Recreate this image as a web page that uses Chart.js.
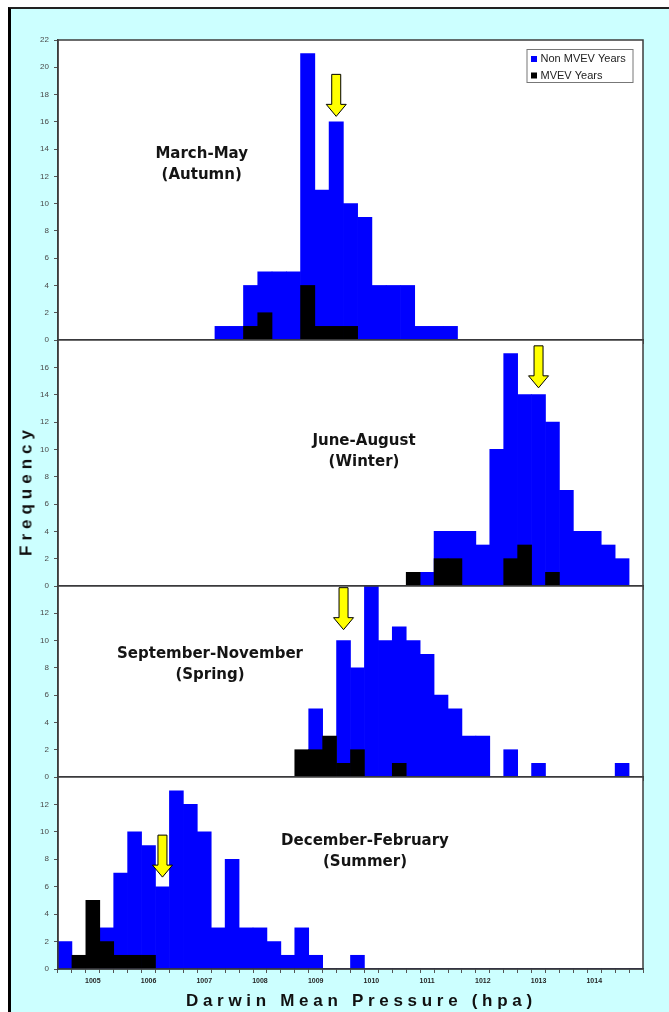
<!DOCTYPE html>
<html>
<head>
<meta charset="utf-8">
<script src="https://cdn.jsdelivr.net/npm/chart.js@4.4.1/dist/chart.umd.min.js"></script>
<style>
html,body{margin:0;padding:0;background:#fff;width:669px;height:1012px;overflow:hidden;position:relative;}
#frame{position:absolute;left:8px;top:7px;width:720px;height:1100px;background:#ccffff;border-left:3px solid #000;border-top:2px solid #222;}
canvas{position:absolute;left:0;top:0;}
.ttl{position:absolute;font-family:"Liberation Sans",Arial,sans-serif;font-weight:bold;color:#111;white-space:nowrap;font-size:17px;line-height:1;}
#ytitle{left:26px;top:493px;letter-spacing:5px;padding-left:5px;transform:translate(-50%,-50%) rotate(-90deg);}
#xtitle{left:359px;top:1000px;letter-spacing:4.7px;padding-left:4.7px;transform:translate(-50%,-50%);}
</style>
</head>
<body>
<div id="frame"></div>
<canvas id="c1" width="669" height="1012"></canvas>
<canvas id="c2" width="669" height="1012"></canvas>
<canvas id="c3" width="669" height="1012"></canvas>
<canvas id="c4" width="669" height="1012"></canvas>
<div class="ttl" id="ytitle">Frequency</div>
<div class="ttl" id="xtitle">Darwin Mean Pressure (hpa)</div>
<script>
// ---------- data ----------
const seriesNames = ['Non MVEV Years', 'MVEV Years'];

// pressure bins (hPa), March-May chart has 41 bins, others 42
const categoriesMAM = ['1004.5','1004.75','1005','1005.25','1005.5','1005.75','1006','1006.25','1006.5','1006.75',
  '1007','1007.25','1007.5','1007.75','1008','1008.25','1008.5','1008.75','1009','1009.25','1009.5','1009.75',
  '1010','1010.25','1010.5','1010.75','1011','1011.25','1011.5','1011.75','1012','1012.25','1012.5','1012.75',
  '1013','1013.25','1013.5','1013.75','1014','1014.25','1014.5'];
const categories = ['1004.5','1004.75','1005','1005.25','1005.5','1005.75','1006','1006.25','1006.5','1006.75',
  '1007','1007.25','1007.5','1007.75','1008','1008.25','1008.5','1008.75','1009','1009.25','1009.5','1009.75',
  '1010','1010.25','1010.5','1010.75','1011','1011.25','1011.5','1011.75','1012','1012.25','1012.5','1012.75',
  '1013','1013.25','1013.5','1013.75','1014','1014.25','1014.5','1014.75'];

const mamNonMVEV = [0,0,0,0,0,0,0,0,0,0,0,1,1,4,5,5,5,21,11,16,10,9,4,4,4,1,1,1,0,0,0,0,0,0,0,0,0,0,0,0,0];
const mamMVEV    = [0,0,0,0,0,0,0,0,0,0,0,0,0,1,2,0,0,4,1,1,1,0,0,0,0,0,0,0,0,0,0,0,0,0,0,0,0,0,0,0,0];

const jjaNonMVEV = [0,0,0,0,0,0,0,0,0,0,0,0,0,0,0,0,0,0,0,0,0,0,0,0,0,0,1,4,4,4,3,10,17,14,14,12,7,4,4,3,2,0];
const jjaMVEV    = [0,0,0,0,0,0,0,0,0,0,0,0,0,0,0,0,0,0,0,0,0,0,0,0,0,1,0,2,2,0,0,0,2,3,0,1,0,0,0,0,0,0];

const sonNonMVEV = [0,0,0,0,0,0,0,0,0,0,0,0,0,0,0,0,0,0,5,0,10,8,14,10,11,10,9,6,5,3,3,0,2,0,1,0,0,0,0,0,1,0];
const sonMVEV    = [0,0,0,0,0,0,0,0,0,0,0,0,0,0,0,0,0,2,2,3,1,2,0,0,1,0,0,0,0,0,0,0,0,0,0,0,0,0,0,0,0,0];

const djfNonMVEV = [2,0,0,3,7,10,9,6,13,12,10,3,8,3,3,2,1,3,1,0,0,1,0,0,0,0,0,0,0,0,0,0,0,0,0,0,0,0,0,0,0,0];
const djfMVEV    = [0,1,5,2,1,1,1,0,0,0,0,0,0,0,0,0,0,0,0,0,0,0,0,0,0,0,0,0,0,0,0,0,0,0,0,0,0,0,0,0,0,0];

const yMaxes = [22, 18, 14, 14];
const seasonLabels = [['March-May','(Autumn)'],['June-August','(Winter)'],['September-November','(Spring)'],['December-February','(Summer)']];
// arrow markers: bin and frequency value at the arrow tip
const arrowBins = ['1009.25','1013','1009.5','1006.25'];
const arrowTips = [16.4, 14.5, 10.8, 6.7];

// ---------- layout (pixels) ----------
const W = 669, H = 1012, AXIS_H = 20;
const panels = [
  {id:'c1', top:40,  bottom:340, cats:categoriesMAM, blue:mamNonMVEV, black:mamMVEV, text:[201.7,154], legend:true, showX:false},
  {id:'c2', top:340, bottom:586, cats:categories, blue:jjaNonMVEV, black:jjaMVEV, text:[364,441], legend:false, showX:false},
  {id:'c3', top:586, bottom:777, cats:categories, blue:sonNonMVEV, black:sonMVEV, text:[210,654], legend:false, showX:false},
  {id:'c4', top:777, bottom:969, cats:categories, blue:djfNonMVEV, black:djfMVEV, text:[365,841], legend:false, showX:true}
];

Chart.defaults.font.family = '"Liberation Sans", Arial, sans-serif';

const deco = {
  id: 'deco',
  beforeDraw(chart) {
    const {ctx, chartArea: a} = chart;
    ctx.save();
    ctx.fillStyle = '#ffffff';
    ctx.fillRect(a.left, a.top, a.right - a.left, a.bottom - a.top);
    ctx.restore();
  },
  afterDatasetsDraw(chart, args, o) {
    const {ctx, chartArea: a, scales} = chart;
    ctx.save();
    ctx.strokeStyle = '#3c3c3c';
    ctx.lineWidth = 1.5;
    ctx.strokeRect(a.left, a.top, a.right - a.left, a.bottom - a.top);

    // season label
    ctx.fillStyle = '#141414';
    ctx.font = 'bold 15px "DejaVu Sans", Verdana, sans-serif';
    ctx.textAlign = 'center';
    ctx.textBaseline = 'middle';
    ctx.fillText(o.lines[0], o.tx, o.ty);
    ctx.fillText(o.lines[1], o.tx, o.ty + 21);

    // arrow
    const xi = scales.x.getLabels().indexOf(o.arrowBin);
    const xc = scales.x.getPixelForValue(xi);
    const tip = scales.y.getPixelForValue(o.arrowTip);
    const top = tip - 42, headH = 12, hw = 10, sw = 4.5;
    ctx.beginPath();
    ctx.moveTo(xc - sw, top);
    ctx.lineTo(xc + sw, top);
    ctx.lineTo(xc + sw, tip - headH);
    ctx.lineTo(xc + hw, tip - headH);
    ctx.lineTo(xc, tip);
    ctx.lineTo(xc - hw, tip - headH);
    ctx.lineTo(xc - sw, tip - headH);
    ctx.closePath();
    ctx.fillStyle = '#ffff00';
    ctx.fill();
    ctx.lineWidth = 1;
    ctx.strokeStyle = '#000';
    ctx.stroke();

    // legend
    if (o.legend) {
      const bx = 527, by = 49.5, bw = 106, bh = 33;
      ctx.fillStyle = '#fff';
      ctx.fillRect(bx, by, bw, bh);
      ctx.strokeStyle = '#777';
      ctx.lineWidth = 1;
      ctx.strokeRect(bx, by, bw, bh);
      ctx.font = '11px "Liberation Sans", Arial, sans-serif';
      ctx.textAlign = 'left';
      ctx.textBaseline = 'middle';
      chart.data.datasets.forEach((ds, i) => {
        const cy = by + 9.5 + i * 16.5;
        ctx.fillStyle = ds.backgroundColor;
        ctx.fillRect(bx + 4, cy - 3, 6, 6);
        ctx.fillStyle = '#222';
        ctx.fillText(ds.label, bx + 13.5, cy);
      });
    }
    ctx.restore();
  }
};

panels.forEach((p, idx) => {
  const yMax = yMaxes[idx];
  new Chart(document.getElementById(p.id), {
    type: 'bar',
    data: {
      labels: p.cats,
      datasets: [
        {label: seriesNames[0], data: p.blue, backgroundColor: '#0000ff', borderWidth: 0,
         barPercentage: 1, categoryPercentage: 1, grouped: false, order: 2},
        {label: seriesNames[1], data: p.black, backgroundColor: '#000000', borderWidth: 0,
         barPercentage: 1, categoryPercentage: 1, grouped: false, order: 1}
      ]
    },
    options: {
      responsive: false,
      animation: false,
      devicePixelRatio: 1,
      layout: {padding: {top: p.top, bottom: H - p.bottom - AXIS_H, left: 0, right: 26}},
      plugins: {
        legend: {display: false},
        title: {display: false},
        tooltip: {enabled: false},
        deco: {lines: seasonLabels[idx], tx: p.text[0], ty: p.text[1], arrowBin: arrowBins[idx],
               arrowTip: arrowTips[idx], legend: p.legend}
      },
      scales: {
        x: {
          type: 'category',
          offset: true,
          afterFit: s => { s.height = AXIS_H; },
          grid: {offset: true, drawOnChartArea: false, drawTicks: true, tickLength: 4, color: '#555'},
          border: {display: true, color: '#3c3c3c', width: 1.5},
          ticks: {
            autoSkip: false, maxRotation: 0, minRotation: 0, padding: 4,
            color: '#262626', font: {size: 7, weight: 'bold'},
            callback: function (v) {
              if (!p.showX) return '';
              const l = this.getLabelForValue(v);
              return Number.isInteger(Number(l)) ? l : '';
            }
          }
        },
        y: {
          min: 0, max: yMax,
          afterFit: s => { s.width = 58; },
          grid: {drawOnChartArea: false, drawTicks: true, tickLength: 4, color: '#555'},
          border: {display: true, color: '#3c3c3c', width: 1.5},
          ticks: {
            stepSize: 2, padding: 5, color: '#4a4a4a', font: {size: 8},
            callback: v => (idx > 0 && v === yMax) ? '' : v
          }
        }
      }
    },
    plugins: [deco]
  });
});
</script>
</body>
</html>
